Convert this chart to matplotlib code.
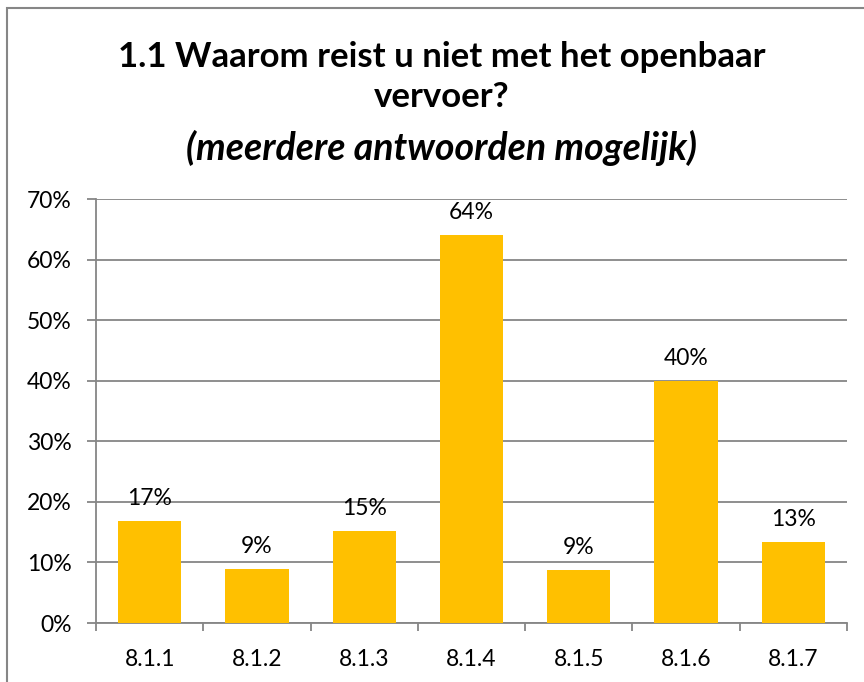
import matplotlib.pyplot as plt
import numpy as np
from matplotlib.patches import Rectangle
from matplotlib.ticker import FuncFormatter, FixedLocator

# data
categories = ["8.1.1", "8.1.2", "8.1.3", "8.1.4", "8.1.5", "8.1.6", "8.1.7"]
values = [0.169, 0.089, 0.152, 0.640, 0.088, 0.400, 0.134]
labels = ["17%", "9%", "15%", "64%", "9%", "40%", "13%"]

title_line1 = "1.1 Waarom reist u niet met het openbaar"
title_line2 = "vervoer?"
subtitle = "(meerdere antwoorden mogelijk)"

bar_color = "#FFC000"
grid_color = "#868686"

plt.rcParams["font.family"] = ["Lato", "DejaVu Sans"]

fig = plt.figure(figsize=(8.64, 6.82), dpi=100)
ax = fig.add_axes([96 / 864, 1 - 623 / 682, 751 / 864, 424 / 682])

x = np.arange(len(categories))
ax.bar(x, values, width=0.59, color=bar_color, zorder=3)
for xi, v, lab in zip(x, values, labels):
    ax.text(xi, v + 0.02, lab, ha="center", va="bottom", fontsize=16.5, color="black", zorder=4)

ax.set_xlim(-0.5, len(categories) - 0.5)
ax.set_ylim(0, 0.7)
ax.set_yticks(np.arange(0, 0.71, 0.1))
ax.yaxis.set_major_formatter(FuncFormatter(lambda v, p: f"{v * 100:.0f}%"))
ax.yaxis.grid(True, color=grid_color, linewidth=1.3, zorder=0)

ax.set_xticks(x)
ax.set_xticklabels(categories)
ax.xaxis.set_minor_locator(FixedLocator(np.arange(-0.5, len(categories), 1.0)))
ax.tick_params(axis="x", which="major", length=0, pad=19, labelsize=16.5)
ax.tick_params(axis="x", which="minor", length=6, width=1.3, color=grid_color)
ax.tick_params(axis="y", length=6.5, width=1.3, color=grid_color, labelsize=16.5, pad=11)

for side in ["top", "right"]:
    ax.spines[side].set_visible(False)
for side in ["left", "bottom"]:
    ax.spines[side].set_color(grid_color)
    ax.spines[side].set_linewidth(1.3)

cx = 442 / 864
fig.text(cx, 1 - 57 / 682, title_line1, ha="center", va="center", fontsize=25, fontweight="bold")
fig.text(cx, 1 - 97 / 682, title_line2, ha="center", va="center", fontsize=25, fontweight="bold")
fig.text(cx, 1 - 148 / 682, subtitle, ha="center", va="center", fontsize=27,
         fontweight="bold", style="italic")

# chart border
fig.patches.append(Rectangle((7 / 864, -0.05), 1.2, 1 - 8 / 682 + 0.05, transform=fig.transFigure,
                             fill=False, edgecolor=grid_color, linewidth=1.5))

fig.savefig("out.png", dpi=100)
